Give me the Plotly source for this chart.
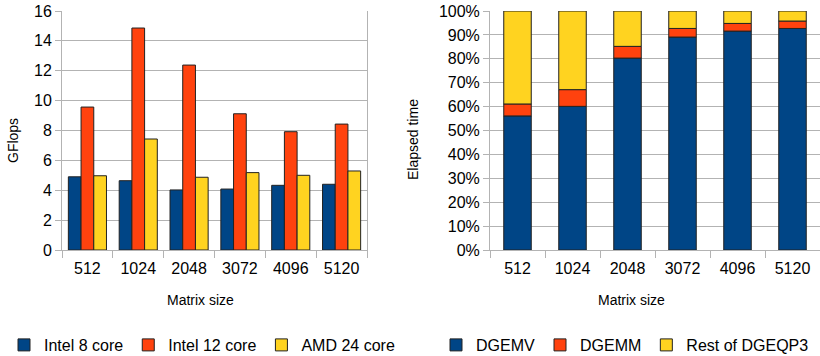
import plotly.graph_objects as go

sizes = ["512", "1024", "2048", "3072", "4096", "5120"]

# Left chart: GFlops
intel8 = [4.90, 4.64, 4.02, 4.08, 4.33, 4.40]
intel12 = [9.57, 14.86, 12.38, 9.12, 7.92, 8.43]
amd24 = [4.97, 7.43, 4.87, 5.18, 5.00, 5.29]

# Right chart: share of elapsed time (%)
dgemv = [56.1, 60.1, 80.3, 89.1, 91.6, 92.7]
dgemm = [5.0, 7.0, 4.9, 3.6, 3.2, 3.1]
rest = [38.9, 32.9, 14.8, 7.3, 5.2, 4.2]

BLUE = "#004586"
RED = "#ff420e"
YEL = "#ffd320"
GRID = "#b3b3b3"
FONT = "Liberation Sans"

W, H = 820, 356
ML, MT, B_S = 62, 11, 250
MB = H - B_S
PW = W - ML
PH = H - MT - MB


def px(sx):
    return (sx - ML) / PW


def py(sy):
    return (B_S - sy) / PH


fig = go.Figure()
line = dict(color="#222222", width=1)

for name, vals, col in [("Intel 8 core", intel8, BLUE), ("Intel 12 core", intel12, RED), ("AMD 24 core", amd24, YEL)]:
    fig.add_trace(go.Bar(x=sizes, y=vals, name=name, marker=dict(color=col, line=line),
                         xaxis="x", yaxis="y", legend="legend"))

base = [0.0] * len(sizes)
for name, vals, col in [("DGEMV", dgemv, BLUE), ("DGEMM", dgemm, RED), ("Rest of DGEQP3", rest, YEL)]:
    fig.add_trace(go.Bar(x=sizes, y=vals, base=list(base), name=name, width=0.5, offsetgroup="s",
                         marker=dict(color=col, line=line), xaxis="x2", yaxis="y2", legend="legend2"))
    base = [b + v for b, v in zip(base, vals)]


def ax(**kw):
    d = dict(showline=True, linecolor=GRID, linewidth=1, ticks="outside", tickcolor=GRID,
             tickfont=dict(family=FONT, size=16, color="#000"), automargin=False,
             ticklabeloverflow="allow")
    d.update(kw)
    return d


leg_font = dict(family=FONT, size=16, color="#000")
leg_common = dict(orientation="h", xref="container", yref="container", y=1 - 345 / H,
                  xanchor="left", yanchor="middle", font=leg_font, itemwidth=30, tracegroupgap=0)

fig.update_layout(
    width=W, height=H, margin=dict(l=ML, r=0, t=MT, b=MB, pad=0, autoexpand=False),
    paper_bgcolor="white", plot_bgcolor="white",
    font=dict(family=FONT, color="#000"),
    barmode="group", bargap=0.25, bargroupgap=0,
    xaxis=ax(domain=[0, px(367)], type="category", tickson="boundaries", ticklen=7,
             ticklabelstandoff=4, anchor="y"),
    yaxis=ax(domain=[0, 1], range=[0, 16], dtick=2, ticklen=6, showgrid=True, gridcolor=GRID,
             anchor="x", mirror=True, zeroline=False),
    xaxis2=ax(domain=[px(490), 1.0], type="category", tickson="boundaries", ticklen=7,
              ticklabelstandoff=4, anchor="y2"),
    yaxis2=ax(domain=[0, 1], range=[0, 100], dtick=10, ticksuffix="%", ticklen=6, showgrid=True,
              gridcolor=GRID, anchor="x2", zeroline=False),
    legend=dict(x=4 / W, **leg_common),
    legend2=dict(x=436 / W, **leg_common),
    annotations=[
        dict(text="Matrix size", x=px(200), y=py(300), xref="paper", yref="paper",
             xanchor="center", yanchor="middle", showarrow=False, font=dict(family=FONT, size=14)),
        dict(text="Matrix size", x=px(631), y=py(300), xref="paper", yref="paper",
             xanchor="center", yanchor="middle", showarrow=False, font=dict(family=FONT, size=14)),
        dict(text="GFlops", x=px(13), y=py(141), xref="paper", yref="paper", textangle=-90,
             xanchor="center", yanchor="middle", showarrow=False, font=dict(family=FONT, size=14)),
        dict(text="Elapsed time", x=px(413), y=py(140), xref="paper", yref="paper", textangle=-90,
             xanchor="center", yanchor="middle", showarrow=False, font=dict(family=FONT, size=14)),
    ],
)

# remove the browser's default 8px body margin so the figure fills the window exactly
fig.write_html("out.html", config={"displayModeBar": False},
               post_script="document.body.style.margin='0px';")
